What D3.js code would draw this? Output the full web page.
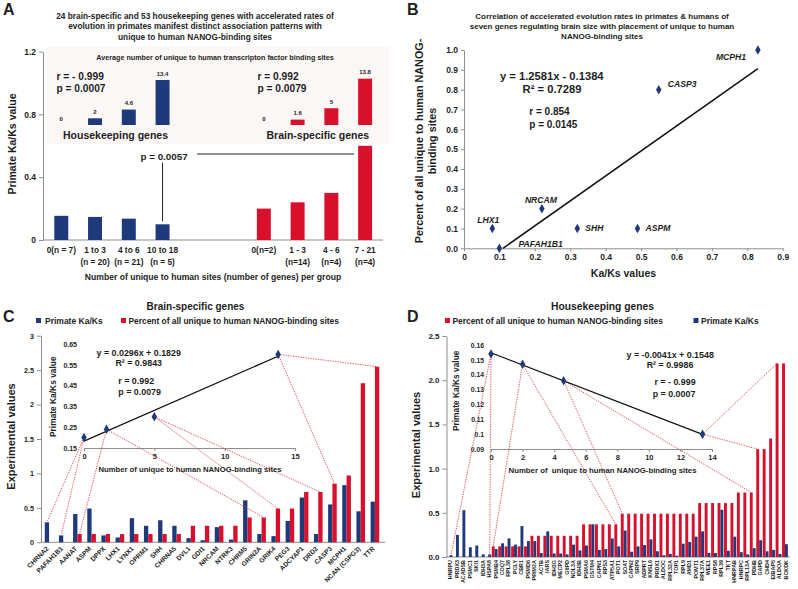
<!DOCTYPE html>
<html><head><meta charset="utf-8">
<script src="https://cdn.jsdelivr.net/npm/d3@7"></script>
<style>
body{margin:0;background:#fff}
text{font-family:"Liberation Sans",Arial,Helvetica,sans-serif;font-weight:bold;fill:#1e1e1e}
</style>
</head><body>
<svg id="chart" width="798" height="589"></svg>
<script>
// ---------------- DATA ----------------
// Panel A
const aHkKaKs = [0.154, 0.147, 0.136, 0.100];
const aBrainKaKs = [0.20, 0.24, 0.30, 0.60];
const aHkAvgSites = [0, 2, 4.6, 13.4];
const aBrainAvgSites = [0, 1.6, 5, 13.8];
const aHkLine1 = ["0(n = 7)", "1 to 3", "4 to 6", "10 to 18"];
const aHkLine2 = ["", "(n = 20)", "(n = 21)", "(n = 5)"];
const aBrLine1 = ["0(n=2)", "1 - 3", "4 - 6", "7 - 21"];
const aBrLine2 = ["", "(n=14)", "(n=4)", "(n=4)"];
const aYTicks = [0, 0.4, 0.8, 1.2];
const aYTickLabels = ["0", "0.4", "0.8", "1.2"];

// Panel B
const bGenes = ["MCPH1", "CASP3", "NRCAM", "LHX1", "SHH", "ASPM", "PAFAH1B1"];
const bKaKs = [0.83, 0.55, 0.22, 0.08, 0.32, 0.49, 0.10];
const bPercent = [1.0, 0.8, 0.2, 0.1, 0.1, 0.1, 0.0];
const bXTicks = [0, 0.1, 0.2, 0.3, 0.4, 0.5, 0.6, 0.7, 0.8, 0.9];
const bXTickLabels = ["0", "0.1", "0.2", "0.3", "0.4", "0.5", "0.6", "0.7", "0.8", "0.9"];
const bYTicks = [0, 0.1, 0.2, 0.3, 0.4, 0.5, 0.6, 0.7, 0.8, 0.9, 1.0];
const bYTickLabels = ["0.0", "0.1", "0.2", "0.3", "0.4", "0.5", "0.6", "0.7", "0.8", "0.9", "1.0"];
const bSlope = 1.2581, bIntercept = -0.1384;

// Panel C (brain-specific genes)
const cGenes = ["CHRNA2", "PAFAH1B1", "AANAT", "ASPM", "DPPX", "LHX1", "LYNX1", "OPRM1", "SHH", "CHRNA5",
  "DVL1", "GDI1", "NRCAM", "NTRK3", "CHRM5", "GRIN2A", "GRIK4", "PEG3", "ADCYAP1", "DRD2",
  "CASP3", "MCPH1", "NCAN (CSPG3)", "TTR"];
const cKaKs = [0.29, 0.10, 0.41, 0.49, 0.10, 0.07, 0.35, 0.24, 0.32, 0.24,
  0.06, 0.03, 0.22, 0.04, 0.61, 0.12, 0.09, 0.31, 0.65, 0.12,
  0.55, 0.83, 0.45, 0.59];
const cPercent = [0, 0, 0.12, 0.12, 0.12, 0.12, 0.12, 0.12, 0.12, 0.12,
  0.24, 0.24, 0.24, 0.24, 0.36, 0.36, 0.49, 0.49, 0.73, 0.73,
  0.85, 0.97, 2.31, 2.55];
const cYTicks = [0, 0.5, 1, 1.5, 2, 2.5, 3];
const cYTickLabels = ["0", "0.5", "1", "1.5", "2", "2.5", "3"];
const cInsetXTicks = [0, 5, 10, 15];
const cInsetYTicks = [0.15, 0.25, 0.35, 0.45, 0.55, 0.65];
const cInsetYTickLabels = ["0.15", "0.25", "0.35", "0.45", "0.55", "0.65"];
const cSlope = 0.0296, cIntercept = 0.1829;
const cLinkGroup = [0, 0, 1, 1, 2, 2, 3, 3];
const cLinkGene = ["CHRNA2", "PAFAH1B1", "AANAT", "GRIN2A", "GRIK4", "DRD2", "CASP3", "TTR"];

// Panel D (housekeeping genes)
const dGenes = ["HNRPU", "PRDX3", "ACADSB", "PSMC1", "SKI1", "IDH3A", "HSPA8", "PSMB4", "COQ7", "RPL38",
  "PCLY", "CBR1", "PSMD6", "PRIM2A", "ACTB", "IARS", "IDH3G", "MECP2", "G6PD", "NOL3A",
  "IDH3B", "PSMA6", "GSTM4", "CAPN1", "RPS3", "ATP5A1", "POT1", "SOAT", "CAPN2", "SRP9",
  "ADPRT", "KNSL6", "PRDX1", "ALDOC", "RPL32A", "TOP1", "RPL9", "AMD1", "POMT1", "RPL37A",
  "WEE1", "RPS8", "RPL39", "TKT", "HNRPAB", "HNRPC", "RPL13A", "PDHB", "GAPD", "CHD4",
  "EIBAP5", "ALDOA", "BCKDK"];
const dPercent = [0, 0, 0, 0, 0, 0, 0, 0.12, 0.12, 0.12,
  0.12, 0.12, 0.12, 0.24, 0.24, 0.24, 0.24, 0.24, 0.24, 0.24,
  0.24, 0.37, 0.37, 0.37, 0.37, 0.37, 0.37, 0.49, 0.49, 0.49,
  0.49, 0.49, 0.49, 0.49, 0.49, 0.49, 0.49, 0.49, 0.49, 0.61,
  0.61, 0.61, 0.61, 0.61, 0.61, 0.73, 0.73, 0.73, 1.22, 1.22,
  1.34, 2.19, 2.19];
const dKaKs = [0.02, 0.25, 0.53, 0.11, 0.13, 0.03, 0.03, 0.09, 0.155, 0.21,
  0.14, 0.35, 0.18, 0.18, 0.045, 0.29, 0.04, 0.04, 0.03, 0.14,
  0.075, 0.13, 0.37, 0.08, 0.09, 0.21, 0.12, 0.30, 0.06, 0.12,
  0.135, 0.20, 0.065, 0.02, 0.035, 0.015, 0.15, 0.17, 0.23, 0.29,
  0.045, 0.045, 0.535, 0.07, 0.23, 0.055, 0.03, 0.10, 0.19, 0.065,
  0.08, 0.035, 0.145];
const dYTicks = [0, 0.5, 1.0, 1.5, 2.0, 2.5];
const dYTickLabels = ["0.0", "0.5", "1.0", "1.5", "2.0", "2.5"];
const dInsetXTicks = [0, 2, 4, 6, 8, 10, 12, 14];
const dInsetYTicks = [0.09, 0.10, 0.11, 0.12, 0.13, 0.14, 0.15, 0.16];
const dInsetYTickLabels = ["0.09", "0.1", "0.11", "0.12", "0.13", "0.14", "0.15", "0.16"];
const dSlope = -0.0041, dIntercept = 0.1548;
const dLinkGroup = [0, 0, 1, 1, 2, 2, 3, 3];
const dLinkGene = ["HNRPU", "HSPA8", "PSMB4", "POT1", "SOAT", "PDHB", "GAPD", "ALDOA"];

// ---------------- STYLE ----------------
const BLUE = "#1f3a7b", RED = "#d8102b", LINKC = "#e23a48", AXC = "#8e8e8e";
const svg = d3.select("#chart");
svg.append("rect").attr("width", 798).attr("height", 589).attr("fill", "#fff");

function txt(x, y, s, fs, o = {}) {
  const t = svg.append("text").attr("x", x).attr("y", y).attr("font-size", fs)
    .attr("text-anchor", o.anchor || "start").text(s);
  if (o.italic) t.attr("font-style", "italic");
  if (o.rotate) t.attr("transform", `rotate(${o.rotate},${x},${y})`);
  if (o.mid) t.attr("dominant-baseline", "middle");
  return t;
}
function styleAxis(g, fs, hideDomain) {
  g.attr("font-size", fs).attr("font-family", null);
  g.select(".domain").attr("stroke", hideDomain ? "none" : AXC);
  g.selectAll(".tick line").attr("stroke", AXC);
  g.selectAll(".tick text").attr("fill", "#1e1e1e");
}
function hline(x1, x2, y, c = AXC, w = 1) {
  svg.append("line").attr("x1", x1).attr("x2", x2).attr("y1", y).attr("y2", y).attr("stroke", c).attr("stroke-width", w);
}
const diamond = d3.symbol().type(d3.symbolDiamond).size(26);

// ================= PANEL A =================
txt(3, 15, "A", 16);
["24 brain-specific and 53 housekeeping genes with accelerated rates of",
 "evolution in primates manifest distinct association patterns with",
 "unique to human NANOG-binding sites"].forEach((s, i) => txt(195, 19 + i * 10.3, s, 8.3, {anchor: "middle"}));

const aSlots = ["h0", "h1", "h2", "h3", "g1", "g2", "b0", "b1", "b2", "b3"];
const hkSlots = aSlots.slice(0, 4), brSlots = aSlots.slice(6);
const ax = d3.scaleBand().domain(aSlots).range([44.4, 382]).paddingInner(0.586).paddingOuter(0.293);
const ay = d3.scaleLinear().domain([0, 1.2]).range([240, 51.6]);
const aiy = d3.scaleLinear().domain([0, 14]).range([125, 78]);

// inset background
svg.append("rect").attr("x", 46).attr("y", 47).attr("width", 344).attr("height", 97).attr("fill", "#fcf7f7");

const gAy = svg.append("g").attr("transform", "translate(43,0)")
  .call(d3.axisLeft(ay).tickValues(aYTicks).tickFormat((d, i) => aYTickLabels[i]).tickSize(4).tickSizeOuter(0));
styleAxis(gAy, 8.5);
hline(43, 383, 240);

function barsA(vals, slots, color, yS, base) {
  svg.append("g").selectAll("rect").data(vals).join("rect")
    .attr("x", (d, i) => ax(slots[i])).attr("width", ax.bandwidth())
    .attr("y", d => yS(d)).attr("height", d => base - yS(d)).attr("fill", color);
}
barsA(aHkKaKs, hkSlots, BLUE, ay, 240);
barsA(aBrainKaKs, brSlots, RED, ay, 240);
barsA(aHkAvgSites, hkSlots, BLUE, aiy, 125);
barsA(aBrainAvgSites, brSlots, RED, aiy, 125);
aHkAvgSites.forEach((v, i) => txt(ax(hkSlots[i]) + ax.bandwidth() / 2, aiy(v) - 4.5, String(v), 6, {anchor: "middle"}));
aBrainAvgSites.forEach((v, i) => txt(ax(brSlots[i]) + ax.bandwidth() / 2, aiy(v) - 4.5, String(v), 6, {anchor: "middle"}));

txt(215, 60, "Average number of unique to human transcripton factor binding sites", 7.2, {anchor: "middle"});
txt(56.5, 79.5, "r = - 0.999", 10.2);
txt(56.5, 92, "p = 0.0007", 10.2);
txt(257.5, 79.5, "r = 0.992", 10.2);
txt(257.5, 92, "p = 0.0079", 10.2);
txt(63, 138.5, "Housekeeping genes", 10.5);
txt(266.5, 138.5, "Brain-specific genes", 10.5);

// x labels
aHkLine1.forEach((s, i) => txt(ax(hkSlots[i]) + ax.bandwidth() / 2, 252.5, s, 8.3, {anchor: "middle"}));
aHkLine2.forEach((s, i) => txt(ax(hkSlots[i]) + ax.bandwidth() / 2, 265, s, 8.3, {anchor: "middle"}));
aBrLine1.forEach((s, i) => txt(ax(brSlots[i]) + ax.bandwidth() / 2, 252.5, s, 8.3, {anchor: "middle"}));
aBrLine2.forEach((s, i) => txt(ax(brSlots[i]) + ax.bandwidth() / 2, 265, s, 8.3, {anchor: "middle"}));
txt(213, 280, "Number of unique to human sites (number of genes) per group", 8.6, {anchor: "middle"});
txt(13.5, 144, "Primate Ka/Ks value", 10.5, {anchor: "middle", rotate: -90, mid: true});

// p = 0.0057 annotation
{
  const cx = ax("h3") + ax.bandwidth() / 2;
  txt(140.5, 159.5, "p = 0.0057", 9.8);
  svg.append("line").attr("x1", cx).attr("x2", cx).attr("y1", 162.5).attr("y2", ay(aHkKaKs[3]) - 3).attr("stroke", "#222").attr("stroke-width", 1);
  hline(197, ax("b3") - 4, 154, "#222", 1);
}

// ================= PANEL B =================
txt(407, 15, "B", 16);
["Correlation of accelerated evolution rates in primates & humans of",
 "seven genes regulating brain size with placement of unique to human",
 "NANOG-binding sites"].forEach((s, i) => txt(602, 18.5 + i * 10, s, 8, {anchor: "middle"}));

const bx = d3.scaleLinear().domain([0, 0.9]).range([464, 782.7]);
const by = d3.scaleLinear().domain([0, 1]).range([248.3, 50]);
const gBy = svg.append("g").attr("transform", "translate(464,0)")
  .call(d3.axisLeft(by).tickValues(bYTicks).tickFormat((d, i) => bYTickLabels[i]).tickSize(3).tickSizeOuter(0));
styleAxis(gBy, 8.5);
const gBx = svg.append("g").attr("transform", "translate(0,248.3)")
  .call(d3.axisBottom(bx).tickValues(bXTicks).tickFormat((d, i) => bXTickLabels[i]).tickSize(3).tickSizeOuter(0));
styleAxis(gBx, 8.5);

// trend line
{
  const x0 = -bIntercept / bSlope, x1 = d3.max(bKaKs);
  svg.append("line").attr("x1", bx(x0)).attr("y1", by(0)).attr("x2", bx(x1)).attr("y2", by(bSlope * x1 + bIntercept))
    .attr("stroke", "#111").attr("stroke-width", 1.5);
}
svg.append("g").selectAll("path").data(bGenes).join("path")
  .attr("d", diamond).attr("fill", BLUE)
  .attr("transform", (d, i) => `translate(${bx(bKaKs[i])},${by(bPercent[i])})`);
const bLabelOff = {MCPH1: [-42, 10], CASP3: [9, -3], NRCAM: [-17, -6], LHX1: [-15, -5.5], SHH: [8, 3], ASPM: [8, 3], PAFAH1B1: [19, -1]};
bGenes.forEach((g, i) => txt(bx(bKaKs[i]) + bLabelOff[g][0], by(bPercent[i]) + bLabelOff[g][1], g, 8.6, {italic: true}));

txt(500, 80, "y = 1.2581x - 0.1384", 11.2);
txt(552, 92.5, "R² = 0.7289", 11.2, {anchor: "middle"});
txt(529.3, 115, "r = 0.854", 10);
txt(529.3, 127.5, "p = 0.0145", 10);
txt(623.5, 276.5, "Ka/Ks values", 10.5, {anchor: "middle"});
txt(420, 141, "Percent of all unique to human NANOG-", 10.8, {anchor: "middle", rotate: -90, mid: true});
txt(433.5, 141, "binding sites", 10.8, {anchor: "middle", rotate: -90, mid: true});

// ================= PANEL C =================
txt(3, 322, "C", 16);
txt(195.5, 310, "Brain-specific genes", 10, {anchor: "middle"});
svg.append("rect").attr("x", 36).attr("y", 318).attr("width", 5).attr("height", 5).attr("fill", BLUE);
txt(45, 324, "Primate Ka/Ks", 8.5);
svg.append("rect").attr("x", 121).attr("y", 318).attr("width", 5).attr("height", 5).attr("fill", RED);
txt(128.5, 324, "Percent of all unique to human NANOG-binding sites", 8.4);

const cx = d3.scaleBand().domain(cGenes).range([42, 382]).paddingInner(0.39).paddingOuter(0.195);
const cSub = d3.scaleBand().domain(["k", "p"]).range([0, cx.bandwidth()]);
const cy = d3.scaleLinear().domain([0, 3]).range([542.3, 335.7]);
const gCy = svg.append("g").attr("transform", "translate(41,0)")
  .call(d3.axisLeft(cy).tickValues(cYTicks).tickFormat((d, i) => cYTickLabels[i]).tickSize(4).tickSizeOuter(0));
styleAxis(gCy, 7.2);
hline(41, 385, 542.3);
svg.append("g").selectAll("rect").data(cKaKs).join("rect")
  .attr("x", (d, i) => cx(cGenes[i]) + cSub("k")).attr("width", cSub.bandwidth())
  .attr("y", d => cy(d)).attr("height", d => cy(0) - cy(d)).attr("fill", BLUE);
svg.append("g").selectAll("rect").data(cPercent).join("rect")
  .attr("x", (d, i) => cx(cGenes[i]) + cSub("p")).attr("width", cSub.bandwidth())
  .attr("y", d => cy(d)).attr("height", d => cy(0) - cy(d)).attr("fill", RED);
cGenes.forEach(g => {
  const x = cx(g) + cx.bandwidth() / 2 - 1.5, y = 547.5;
  svg.append("text").attr("transform", `translate(${x},${y}) rotate(-45)`).attr("text-anchor", "end")
    .attr("dy", "0.35em").attr("font-size", 6.6).text(g);
});
txt(12.5, 436.5, "Experimental values", 11, {anchor: "middle", rotate: -90, mid: true});

// inset C
const cix = d3.scaleLinear().domain([0, 15]).range([84, 295]);
const ciy = d3.scaleLinear().domain([0.15, 0.65]).range([448, 344]);
const gCix = svg.append("g").attr("transform", "translate(0,448)")
  .call(d3.axisBottom(cix).tickValues(cInsetXTicks).tickSize(3).tickSizeOuter(0));
styleAxis(gCix, 7.5);
const gCiy = svg.append("g").attr("transform", "translate(84,0)")
  .call(d3.axisLeft(ciy).tickValues(cInsetYTicks).tickFormat((d, i) => cInsetYTickLabels[i]).tickSize(0).tickPadding(7));
styleAxis(gCiy, 7, true);
// links
cLinkGene.forEach((g, k) => {
  const gi = cGenes.indexOf(g), grp = cLinkGroup[k];
  const useRed = cPercent[gi] > 0;
  const tx = cx(g) + (useRed ? cSub("p") : cSub("k")) + cSub.bandwidth() / 2;
  const ty = cy(useRed ? cPercent[gi] : cKaKs[gi]);
  svg.append("line").attr("x1", cix(aBrainAvgSites[grp])).attr("y1", ciy(aBrainKaKs[grp]))
    .attr("x2", tx).attr("y2", ty).attr("stroke", LINKC).attr("stroke-width", 0.9).attr("stroke-dasharray", "1.3,1.2");
});
svg.append("line").attr("x1", cix(0)).attr("y1", ciy(cIntercept))
  .attr("x2", cix(d3.max(aBrainAvgSites))).attr("y2", ciy(cSlope * d3.max(aBrainAvgSites) + cIntercept))
  .attr("stroke", "#111").attr("stroke-width", 1.2);
svg.append("g").selectAll("path").data(aBrainAvgSites).join("path").attr("d", diamond).attr("fill", BLUE)
  .attr("transform", (d, i) => `translate(${cix(d)},${ciy(aBrainKaKs[i])})`);
txt(96.5, 355.5, "y = 0.0296x + 0.1829", 8.9);
txt(138.7, 365.8, "R² = 0.9843", 8.9, {anchor: "middle"});
txt(118.3, 384, "r = 0.992", 8.9);
txt(118.3, 395, "p = 0.0079", 8.9);
txt(53.3, 396.7, "Primate Ka/Ks value", 8.4, {anchor: "middle", rotate: -90, mid: true});
txt(190, 472, "Number of unique to human NANOG-binding sites", 7.7, {anchor: "middle"});

// ================= PANEL D =================
txt(407, 322, "D", 16);
txt(602.5, 310, "Housekeeping genes", 10.3, {anchor: "middle"});
svg.append("rect").attr("x", 445).attr("y", 318).attr("width", 5).attr("height", 5).attr("fill", RED);
txt(452.5, 324, "Percent of all unique to human NANOG-binding sites", 8.4);
svg.append("rect").attr("x", 693.5).attr("y", 318).attr("width", 5).attr("height", 5).attr("fill", BLUE);
txt(701, 324, "Primate Ka/Ks", 8.5);

const dx = d3.scaleBand().domain(dGenes).range([446.3, 788.2]).paddingInner(0.1).paddingOuter(0.05);
const dSub = d3.scaleBand().domain(["p", "k"]).range([0, dx.bandwidth()]);
const dy = d3.scaleLinear().domain([0, 2.5]).range([557, 336]);
const gDy = svg.append("g").attr("transform", "translate(446.5,0)")
  .call(d3.axisLeft(dy).tickValues(dYTicks).tickFormat((d, i) => dYTickLabels[i]).tickSize(4).tickSizeOuter(0));
styleAxis(gDy, 8);
hline(446.5, 790, 557);
svg.append("g").selectAll("rect").data(dPercent).join("rect")
  .attr("x", (d, i) => dx(dGenes[i]) + dSub("p")).attr("width", dSub.bandwidth())
  .attr("y", d => dy(d)).attr("height", d => dy(0) - dy(d)).attr("fill", RED);
svg.append("g").selectAll("rect").data(dKaKs).join("rect")
  .attr("x", (d, i) => dx(dGenes[i]) + dSub("k")).attr("width", dSub.bandwidth())
  .attr("y", d => dy(d)).attr("height", d => dy(0) - dy(d)).attr("fill", BLUE);
dGenes.forEach(g => {
  const x = dx(g) + dx.bandwidth() / 2 + 1, y = 560;
  svg.append("text").attr("transform", `translate(${x},${y}) rotate(-90)`).attr("text-anchor", "end")
    .attr("dy", "0.35em").attr("font-size", 5.4).text(g);
});
txt(417, 445, "Experimental values", 11, {anchor: "middle", rotate: -90, mid: true});

// inset D
const dix = d3.scaleLinear().domain([0, 14]).range([491, 712]);
const diy = d3.scaleLinear().domain([0.09, 0.16]).range([449, 345]);
const gDix = svg.append("g").attr("transform", "translate(0,449)")
  .call(d3.axisBottom(dix).tickValues(dInsetXTicks).tickSize(3).tickSizeOuter(0));
styleAxis(gDix, 7.5);
const gDiy = svg.append("g").attr("transform", "translate(491,0)")
  .call(d3.axisLeft(diy).tickValues(dInsetYTicks).tickFormat((d, i) => dInsetYTickLabels[i]).tickSize(0).tickPadding(7));
styleAxis(gDiy, 6.8, true);
dLinkGene.forEach((g, k) => {
  const gi = dGenes.indexOf(g), grp = dLinkGroup[k];
  const useRed = dPercent[gi] > 0;
  const tx = dx(g) + (useRed ? dSub("p") : dSub("k")) + dSub.bandwidth() / 2;
  const ty = dy(useRed ? dPercent[gi] : dKaKs[gi]);
  svg.append("line").attr("x1", dix(aHkAvgSites[grp])).attr("y1", diy(aHkKaKs[grp]))
    .attr("x2", tx).attr("y2", ty).attr("stroke", LINKC).attr("stroke-width", 0.9).attr("stroke-dasharray", "1.3,1.2");
});
svg.append("line").attr("x1", dix(0)).attr("y1", diy(dIntercept))
  .attr("x2", dix(d3.max(aHkAvgSites))).attr("y2", diy(dSlope * d3.max(aHkAvgSites) + dIntercept))
  .attr("stroke", "#111").attr("stroke-width", 1.2);
svg.append("g").selectAll("path").data(aHkAvgSites).join("path").attr("d", diamond).attr("fill", BLUE)
  .attr("transform", (d, i) => `translate(${dix(d)},${diy(aHkKaKs[i])})`);
txt(626.5, 358, "y = -0.0041x + 0.1548", 8.9);
txt(670, 368.3, "R² = 0.9986", 8.9, {anchor: "middle"});
txt(675, 385, "r = - 0.999", 8.9, {anchor: "middle"});
txt(674, 396.5, "p = 0.0007", 8.9, {anchor: "middle"});
txt(456.7, 390.8, "Primate Ka/Ks value", 8.4, {anchor: "middle", rotate: -90, mid: true});
txt(602.5, 473, "Number of  unique to human NANOG-binding sites", 7.8, {anchor: "middle"}).attr("xml:space", "preserve");
</script>
</body></html>
